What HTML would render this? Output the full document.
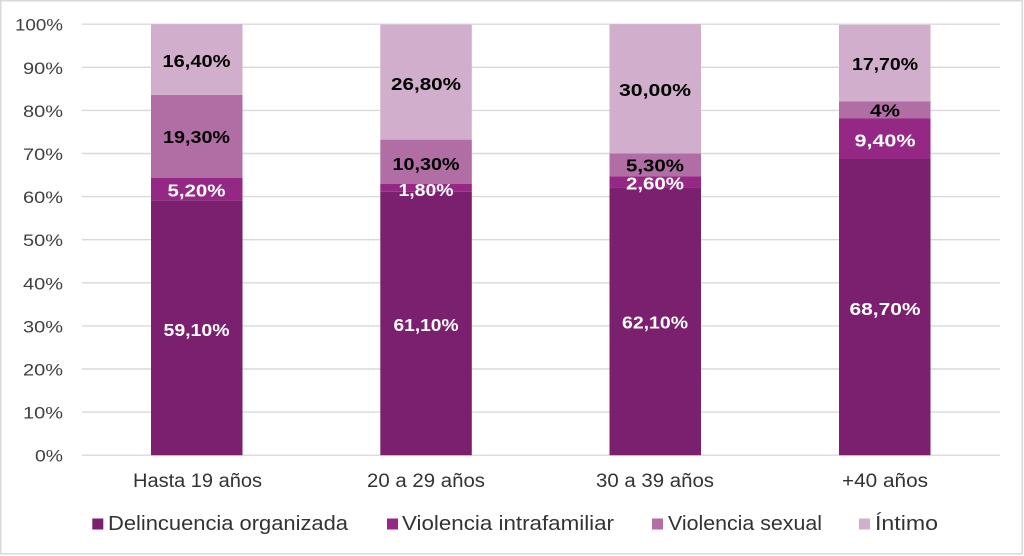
<!DOCTYPE html>
<html>
<head>
<meta charset="utf-8">
<style>
html,body{margin:0;padding:0;background:#fff;}
svg{display:block;}
text{font-family:"Liberation Sans",sans-serif;}
</style>
</head>
<body>
<svg width="1024" height="556" viewBox="0 0 1024 556" xmlns="http://www.w3.org/2000/svg">
<rect x="0" y="0" width="1024" height="556" fill="#fff"/>
<rect x="0.75" y="0.75" width="1021.5" height="553" fill="none" stroke="#d9d9d9" stroke-width="1.5"/>
<!-- gridlines -->
<g stroke="#d9d9d9" stroke-width="1.4">
<line x1="82" x2="1000" y1="24.2" y2="24.2"/>
<line x1="82" x2="1000" y1="67.3" y2="67.3"/>
<line x1="82" x2="1000" y1="110.4" y2="110.4"/>
<line x1="82" x2="1000" y1="153.5" y2="153.5"/>
<line x1="82" x2="1000" y1="196.6" y2="196.6"/>
<line x1="82" x2="1000" y1="239.7" y2="239.7"/>
<line x1="82" x2="1000" y1="282.8" y2="282.8"/>
<line x1="82" x2="1000" y1="325.9" y2="325.9"/>
<line x1="82" x2="1000" y1="369" y2="369"/>
<line x1="82" x2="1000" y1="412.1" y2="412.1"/>
<line x1="82" x2="1000" y1="455.2" y2="455.2"/>
</g>
<!-- tick labels -->
<g fill="#404040" font-size="17" text-anchor="end">
<text x="63" y="30.7" textLength="48" lengthAdjust="spacingAndGlyphs">100%</text>
<text x="63" y="73.8" textLength="40" lengthAdjust="spacingAndGlyphs">90%</text>
<text x="63" y="116.9" textLength="40" lengthAdjust="spacingAndGlyphs">80%</text>
<text x="63" y="160" textLength="40" lengthAdjust="spacingAndGlyphs">70%</text>
<text x="63" y="203.1" textLength="40" lengthAdjust="spacingAndGlyphs">60%</text>
<text x="63" y="246.2" textLength="40" lengthAdjust="spacingAndGlyphs">50%</text>
<text x="63" y="289.3" textLength="40" lengthAdjust="spacingAndGlyphs">40%</text>
<text x="63" y="332.4" textLength="40" lengthAdjust="spacingAndGlyphs">30%</text>
<text x="63" y="375.5" textLength="40" lengthAdjust="spacingAndGlyphs">20%</text>
<text x="63" y="418.6" textLength="40" lengthAdjust="spacingAndGlyphs">10%</text>
<text x="63" y="461.7" textLength="28" lengthAdjust="spacingAndGlyphs">0%</text>
</g>
<!-- bars -->
<!-- bar 1 -->
<rect x="151" y="200.3" width="91.5" height="254.9" fill="#7b1f6f"/>
<rect x="151" y="178" width="91.5" height="22.3" fill="#952785"/>
<rect x="151" y="94.8" width="91.5" height="83.2" fill="#b06ea5"/>
<rect x="151" y="24.2" width="91.5" height="70.6" fill="#d1aecb"/>
<!-- bar 2 -->
<rect x="380.3" y="191.8" width="91.5" height="263.4" fill="#7b1f6f"/>
<rect x="380.3" y="184" width="91.5" height="7.8" fill="#952785"/>
<rect x="380.3" y="139.6" width="91.5" height="44.4" fill="#b06ea5"/>
<rect x="380.3" y="24.6" width="91.5" height="115" fill="#d1aecb"/>
<!-- bar 3 -->
<rect x="609.5" y="187.4" width="91.5" height="267.8" fill="#7b1f6f"/>
<rect x="609.5" y="176.2" width="91.5" height="11.2" fill="#952785"/>
<rect x="609.5" y="153.4" width="91.5" height="22.8" fill="#b06ea5"/>
<rect x="609.5" y="24.2" width="91.5" height="129.2" fill="#d1aecb"/>
<!-- bar 4 -->
<rect x="839" y="159" width="91.5" height="296.2" fill="#7b1f6f"/>
<rect x="839" y="118.5" width="91.5" height="40.5" fill="#952785"/>
<rect x="839" y="101.2" width="91.5" height="17.3" fill="#b06ea5"/>
<rect x="839" y="24.8" width="91.5" height="76.4" fill="#d1aecb"/>
<!-- data labels -->
<g font-size="17.5" font-weight="bold" text-anchor="middle">
<text x="196.5" y="67" fill="#000" textLength="68" lengthAdjust="spacingAndGlyphs">16,40%</text>
<text x="196.5" y="143" fill="#000" textLength="67" lengthAdjust="spacingAndGlyphs">19,30%</text>
<text x="196.5" y="196.5" fill="#fff" textLength="58" lengthAdjust="spacingAndGlyphs">5,20%</text>
<text x="196.5" y="336" fill="#fff" textLength="66" lengthAdjust="spacingAndGlyphs">59,10%</text>

<text x="426" y="90" fill="#000" textLength="70" lengthAdjust="spacingAndGlyphs">26,80%</text>
<text x="426" y="170" fill="#000" textLength="67" lengthAdjust="spacingAndGlyphs">10,30%</text>
<text x="426" y="196" fill="#fff" textLength="55" lengthAdjust="spacingAndGlyphs">1,80%</text>
<text x="426" y="331" fill="#fff" textLength="65" lengthAdjust="spacingAndGlyphs">61,10%</text>

<text x="655" y="96" fill="#000" textLength="72" lengthAdjust="spacingAndGlyphs">30,00%</text>
<text x="655" y="171.5" fill="#000" textLength="58" lengthAdjust="spacingAndGlyphs">5,30%</text>
<text x="655" y="189.5" fill="#fff" textLength="58" lengthAdjust="spacingAndGlyphs">2,60%</text>
<text x="655" y="328.5" fill="#fff" textLength="66" lengthAdjust="spacingAndGlyphs">62,10%</text>

<text x="885" y="70" fill="#000" textLength="66" lengthAdjust="spacingAndGlyphs">17,70%</text>
<text x="885" y="116.5" fill="#000" textLength="30" lengthAdjust="spacingAndGlyphs">4%</text>
<text x="885" y="146.5" fill="#fff" textLength="61" lengthAdjust="spacingAndGlyphs">9,40%</text>
<text x="885" y="315" fill="#fff" textLength="71" lengthAdjust="spacingAndGlyphs">68,70%</text>
</g>
<!-- category labels -->
<g fill="#333" font-size="19" text-anchor="middle">
<text x="197.5" y="487" textLength="129" lengthAdjust="spacingAndGlyphs">Hasta 19 años</text>
<text x="426" y="487" textLength="118" lengthAdjust="spacingAndGlyphs">20 a 29 años</text>
<text x="655" y="487" textLength="118" lengthAdjust="spacingAndGlyphs">30 a 39 años</text>
<text x="885" y="487" textLength="86" lengthAdjust="spacingAndGlyphs">+40 años</text>
</g>
<!-- legend -->
<rect x="92.3" y="518.5" width="11" height="11" fill="#7b1f6f"/>
<rect x="387" y="518.5" width="11" height="11" fill="#952785"/>
<rect x="652" y="518.5" width="11" height="11" fill="#b06ea5"/>
<rect x="859" y="518.5" width="11" height="11" fill="#d1aecb"/>
<g fill="#333" font-size="20">
<text x="108" y="530" textLength="240" lengthAdjust="spacingAndGlyphs">Delincuencia organizada</text>
<text x="402" y="530" textLength="212" lengthAdjust="spacingAndGlyphs">Violencia intrafamiliar</text>
<text x="668" y="530" textLength="154" lengthAdjust="spacingAndGlyphs">Violencia sexual</text>
<text x="875" y="530" textLength="63" lengthAdjust="spacingAndGlyphs">Íntimo</text>
</g>
</svg>
</body>
</html>
